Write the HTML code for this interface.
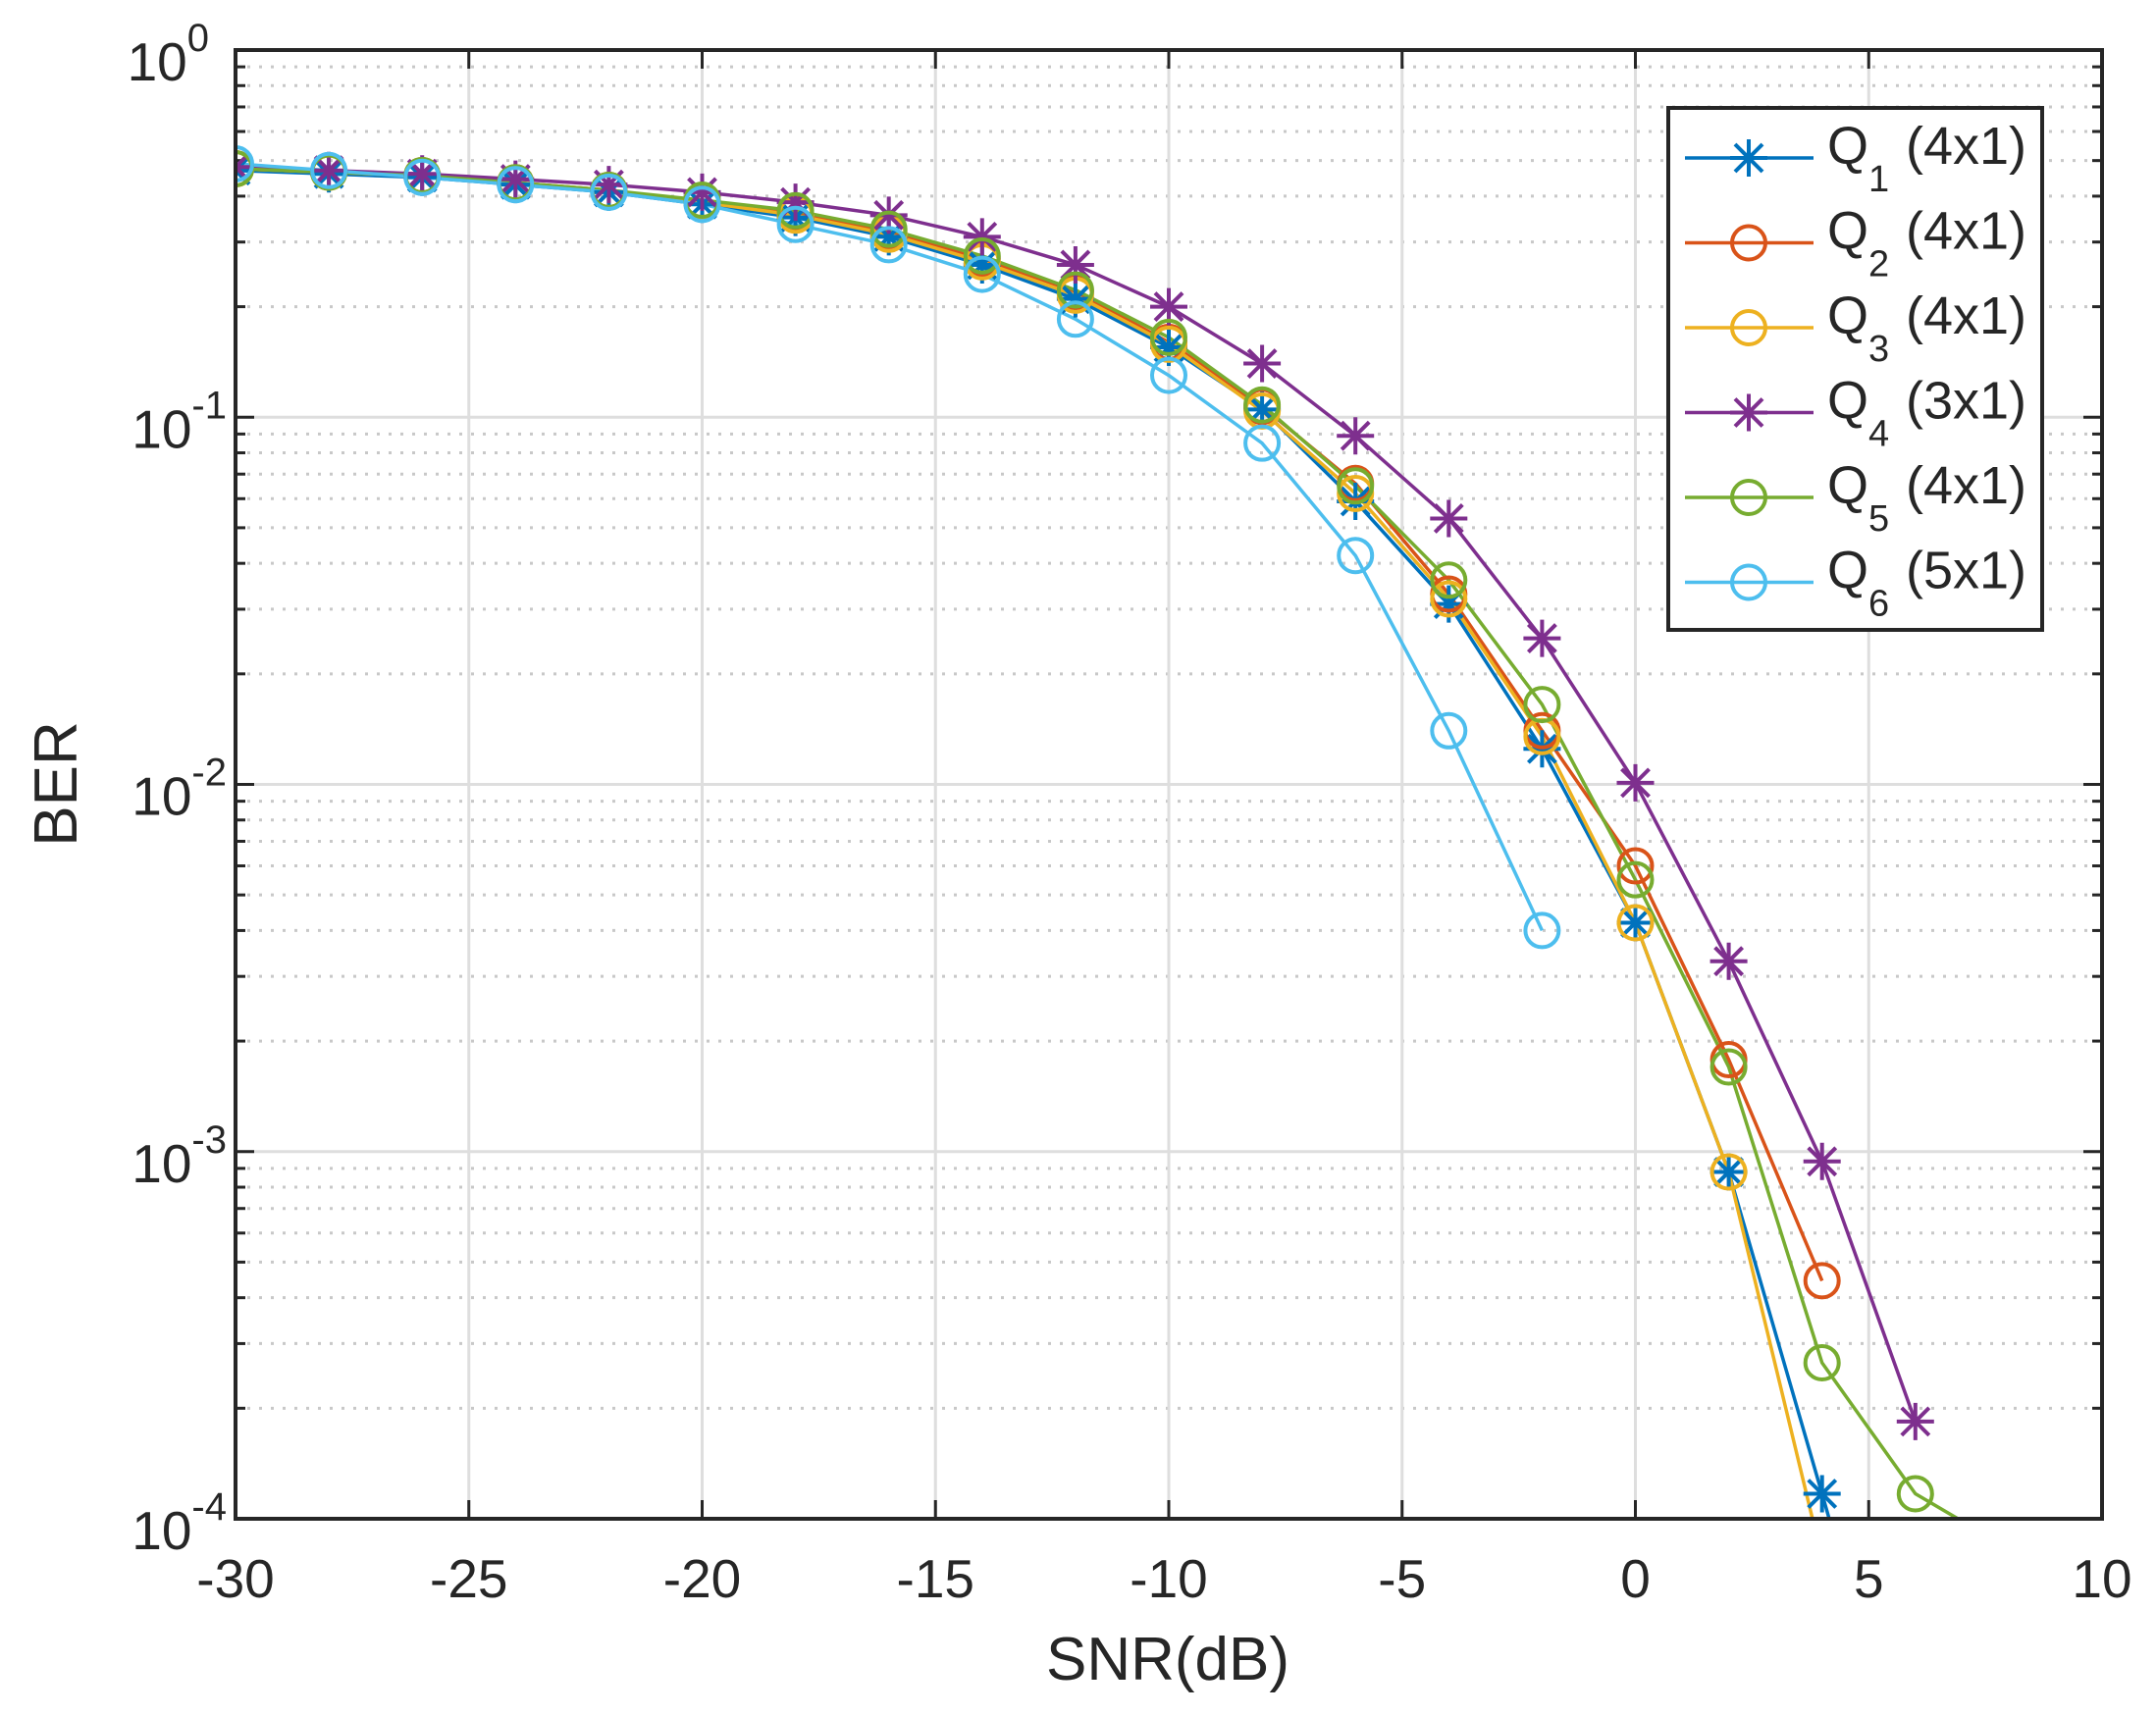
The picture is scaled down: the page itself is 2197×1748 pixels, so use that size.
<!DOCTYPE html>
<html><head><meta charset="utf-8"><style>
html,body{margin:0;padding:0;background:#fff;width:2197px;height:1748px;overflow:hidden;}
svg{display:block;}
text{font-family:"Liberation Sans",sans-serif;fill:#262626;}
</style></head><body>
<svg id="s" width="2197" height="1748" xmlns="http://www.w3.org/2000/svg"></svg>
<script>
const L=240,R=2142,T=51,B=1548;
const X=v=>L+(v+30)/40*(R-L);
const Y=v=>T+(-Math.log10(v))*(B-T)/4;
let o='';
o+='<rect width="2197" height="1748" fill="#fff"/>';
o+='<defs><clipPath id="c"><rect x="'+L+'" y="'+T+'" width="'+(R-L)+'" height="'+(B-T)+'"/></clipPath></defs>';
for(let d=0;d<4;d++){for(let m=2;m<=9;m++){const y=Y(m*Math.pow(10,-d-1));
o+=`<line x1="${L}" x2="${R}" y1="${y}" y2="${y}" stroke="#c8c8c8" stroke-width="3" stroke-dasharray="3 9"/>`;
o+=`<line x1="${L}" x2="${L+10}" y1="${y}" y2="${y}" stroke="#262626" stroke-width="3"/>`;
o+=`<line x1="${R}" x2="${R-10}" y1="${y}" y2="${y}" stroke="#262626" stroke-width="3"/>`;}}
for(let v=-25;v<10;v+=5){const x=X(v);o+=`<line x1="${x}" x2="${x}" y1="${T}" y2="${B}" stroke="#dedede" stroke-width="3"/>`;}
for(let d=1;d<4;d++){const y=Y(Math.pow(10,-d));o+=`<line x1="${L}" x2="${R}" y1="${y}" y2="${y}" stroke="#dedede" stroke-width="3"/>`;}
for(let v=-30;v<=10;v+=5){const x=X(v);
o+=`<line x1="${x}" x2="${x}" y1="${B}" y2="${B-19}" stroke="#262626" stroke-width="3"/><line x1="${x}" x2="${x}" y1="${T}" y2="${T+19}" stroke="#262626" stroke-width="3"/>`;
o+=`<text x="${x}" y="1628" font-size="55" text-anchor="middle">${v<0?'-'+(-v):v}</text>`;}
for(let d=0;d<=4;d++){const y=Y(Math.pow(10,-d));
o+=`<line x1="${L}" x2="${L+19}" y1="${y}" y2="${y}" stroke="#262626" stroke-width="3"/><line x1="${R}" x2="${R-19}" y1="${y}" y2="${y}" stroke="#262626" stroke-width="3"/>`;
const e=d==0?'0':'-'+d;
o+=`<text x="${d==0?213:231}" y="${y+31}" font-size="55" text-anchor="end">10<tspan font-size="40" dy="-30">${e}</tspan></text>`;}
const xs=[];for(let v=-30;v<=8;v+=2)xs.push(v);
const S=[
{c:'#0072BD',m:'*',d:[0.47,0.46,0.45,0.43,0.41,0.38,0.35,0.31,0.26,0.21,0.155,0.105,0.059,0.031,0.0125,0.0042,0.00088,0.000117,0.000015]},
{c:'#D95319',m:'o',d:[0.475,0.465,0.455,0.435,0.415,0.385,0.36,0.32,0.27,0.22,0.16,0.107,0.066,0.033,0.014,0.006,0.00178,0.000445]},
{c:'#EDB120',m:'o',d:[0.475,0.465,0.455,0.435,0.415,0.385,0.355,0.315,0.265,0.215,0.158,0.104,0.062,0.032,0.0135,0.0042,0.00088,0.000078],nm:17},
{c:'#7E2F8E',m:'*',d:[0.48,0.47,0.46,0.445,0.43,0.41,0.385,0.355,0.31,0.26,0.2,0.14,0.089,0.053,0.025,0.0101,0.0033,0.00094,0.000184]},
{c:'#77AC30',m:'o',d:[0.475,0.465,0.455,0.435,0.415,0.39,0.365,0.325,0.275,0.222,0.165,0.108,0.065,0.036,0.0165,0.0055,0.0017,0.000266,0.000117,0.000083],nm:19},
{c:'#4DBEEE',m:'o',d:[0.49,0.47,0.45,0.43,0.41,0.38,0.335,0.295,0.245,0.185,0.13,0.085,0.042,0.014,0.004]}
];
function mk(s,x,y){
 if(s.m=='o')return `<circle cx="${x}" cy="${y}" r="17" fill="none" stroke="${s.c}" stroke-width="4"/>`;
 const r=19,q=14;
 return `<path d="M${x-r} ${y}H${x+r}M${x} ${y-r}V${y+r}M${x-q} ${y-q}L${x+q} ${y+q}M${x-q} ${y+q}L${x+q} ${y-q}" stroke="${s.c}" stroke-width="4" fill="none"/>`;
}
o+='<g clip-path="url(#c)">';
S.forEach(s=>{let p=s.d.map((v,i)=>X(xs[i]).toFixed(1)+','+Y(v).toFixed(1)).join(' ');
o+=`<polyline points="${p}" fill="none" stroke="${s.c}" stroke-width="3.5" stroke-linejoin="round"/>`;});
S.forEach(s=>{const n=s.nm||s.d.length;s.d.forEach((v,i)=>{if(i<n&&v>=1e-4*0.98)o+=mk(s,X(xs[i]),Y(v));});});
o+='</g>';
o+=`<rect x="${L}" y="${T}" width="${R-L}" height="${B-T}" fill="none" stroke="#262626" stroke-width="4"/>`;
o+=`<text x="1190" y="1712" font-size="62" text-anchor="middle">SNR(dB)</text>`;
o+=`<text transform="translate(78,799) rotate(-90)" font-size="62" text-anchor="middle">BER</text>`;
o+=`<rect x="1700" y="110" width="381" height="532" fill="#fff" stroke="#262626" stroke-width="4"/>`;
const lab=['4x1','4x1','4x1','3x1','4x1','5x1'];
S.forEach((s,i)=>{const y=161+i*86.5;
o+=`<line x1="1717" x2="1848" y1="${y}" y2="${y}" stroke="${s.c}" stroke-width="3.5"/>`+mk(s,1782,y);
o+=`<text x="1862" y="${y+6}" font-size="54">Q<tspan font-size="38" dy="28">${i+1}</tspan><tspan dy="-28" x="1942">(${lab[i]})</tspan></text>`;});
document.getElementById('s').innerHTML=o;
</script>
</body></html>
